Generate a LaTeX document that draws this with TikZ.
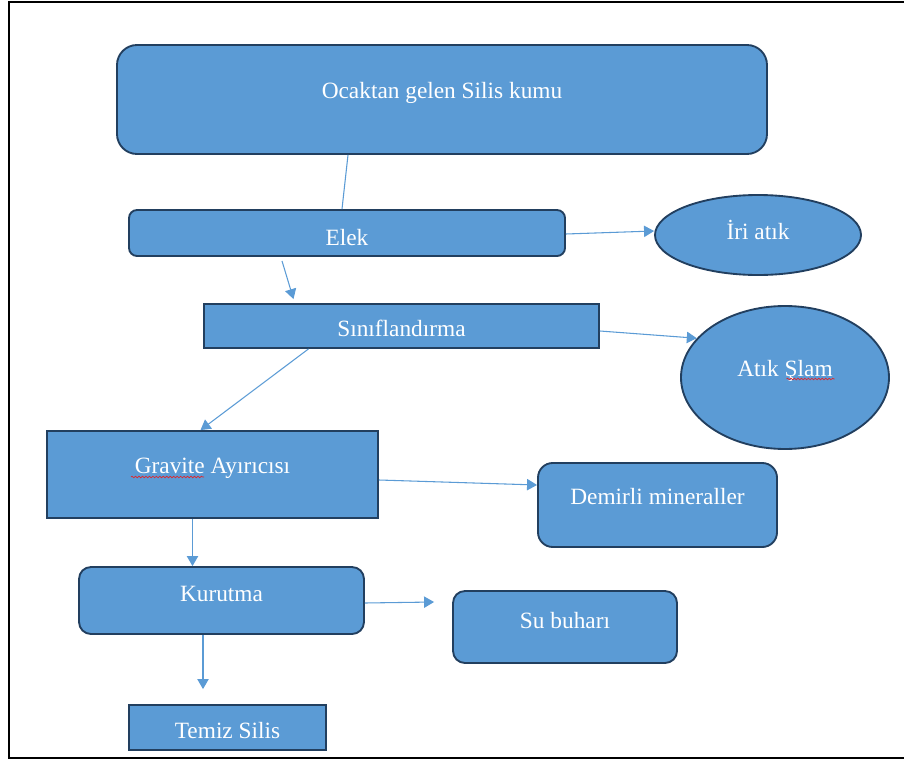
\documentclass[tikz,border=0pt]{standalone}
\usepackage{fontspec}
\setmainfont{Liberation Serif}
\usepackage{tikz}
\usetikzlibrary{arrows.meta,positioning,calc,shapes.geometric,decorations.pathmorphing}
\definecolor{boxfill}{HTML}{5B9BD5}
\definecolor{boxline}{HTML}{223F5F}
\definecolor{link}{HTML}{5B9BD5}
\definecolor{squig}{HTML}{E0262B}
\newcommand{\txtup}[2]{\raisebox{#1}[\height][\depth]{#2}}

\begin{document}
\begin{tikzpicture}[x=0.75pt,y=-0.75pt,
  box/.style={draw=boxline,fill=boxfill,line width=1.4pt,text=white,inner sep=0pt,
              font=\fontsize{17.5}{20}\selectfont},
  rbox/.style={box,rounded corners=#1},
  oval/.style={box,ellipse},
  arr/.style={-{Triangle[length=7.5pt,width=8.5pt]},draw=link,line width=0.8pt},
  lnk/.style={draw=link,line width=0.8pt},
  wavy/.style={draw=squig,line width=0.5pt,decorate,
               decoration={snake,amplitude=0.6pt,segment length=2.6pt}}
]
\useasboundingbox (0,0) rectangle (904,760);
\draw[line width=1.5pt] (904,2) -- (9,2) -- (9,758) -- (904,758);

\node[rbox=15pt,minimum width=487.5pt,minimum height=81.75pt] (ocak) at (442,99.5) {\txtup{4.9pt}{Ocaktan gelen Silis kumu}};
\node[rbox=6pt,minimum width=327pt,minimum height=34.5pt] (elek) at (347,233) {\txtup{-3.75pt}{Elek}};
\node[oval,minimum width=154.5pt,minimum height=60pt] (iri) at (758,235) {\txtup{3.75pt}{İri atık}};
\node[box,minimum width=296.25pt,minimum height=33pt] (sinif) at (401.5,326) {\txtup{-1.5pt}{Sınıflandırma}};
\node[oval,minimum width=156pt,minimum height=107.25pt] (slam) at (785,377.5) {\txtup{5pt}{Atık Şlam}};
\node[box,minimum width=248.25pt,minimum height=65.25pt] (grav) at (212.5,474.5) {\txtup{5pt}{Gravite Ayırıcısı}};
\node[rbox=11pt,minimum width=179.25pt,minimum height=63pt] (demir) at (657.5,505) {\txtup{6pt}{Demirli mineraller}};
\node[rbox=9pt,minimum width=213.75pt,minimum height=50.25pt] (kur) at (221.5,600.5) {\txtup{5pt}{Kurutma}};
\node[rbox=9pt,minimum width=168pt,minimum height=54pt] (su) at (565,627) {\txtup{4.5pt}{Su buharı}};
\node[box,minimum width=147.75pt,minimum height=33.75pt] (temiz) at (227.5,727.5) {\txtup{-2pt}{Temiz Silis}};

\coordinate (suend) at ($(su.west)+(-18,-25)$);
\coordinate (temend) at ($(temiz.north)+(-24.5,-15)$);

\draw[lnk] ($(ocak.south)+(-94,0)$) -- ($(elek.north)+(-5,0)$);
\draw[arr] ($(elek.east)+(0,1)$) -- ($(iri.west)+(0,-4)$);
\draw[arr] ($(elek.south)+(-65,4)$) -- ($(sinif.north)+(-108,-4)$);
\draw[arr] ($(sinif.east)+(0,5)$) -- (slam.156);
\draw[arr] ($(sinif.south)+(-93,0)$) -- ($(grav.north)+(-12,0)$);
\draw[arr] ($(grav.east)+(0,5.5)$) -- ($(demir.west)+(0,-20)$);
\draw[arr] ($(grav.south)+(-20,0)$) -- ($(kur.north)+(-29,0)$);
\draw[arr] ($(kur.east)+(0,2.5)$) -- (suend);
\draw[arr] ($(kur.south)+(-18.5,0)$) -- (temend);

\draw[wavy] ($(slam.center)+(1.5,1.5)$) -- ++(48,0);
\draw[wavy] ($(grav.center)+(-81.5,2.5)$) -- ++(73,0);
\end{tikzpicture}
\end{document}
